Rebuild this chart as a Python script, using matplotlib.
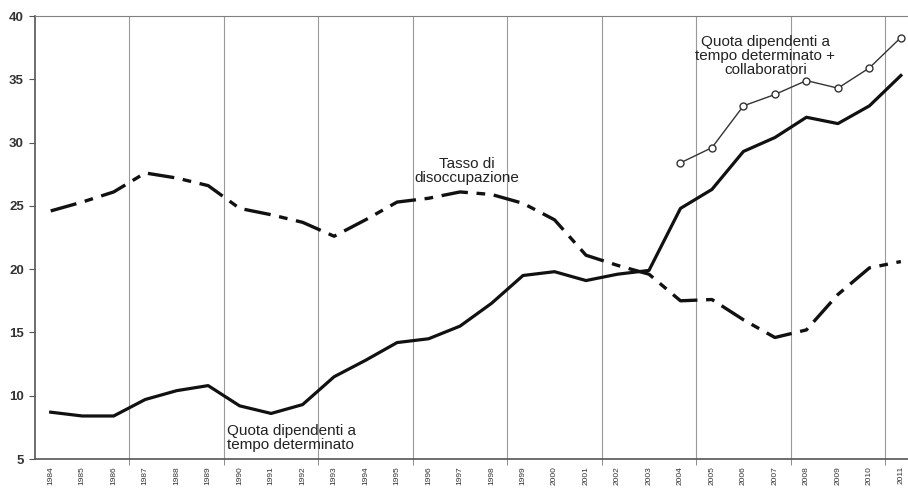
import numpy as np
import matplotlib
matplotlib.use("Agg")
import matplotlib.pyplot as plt

# data
years = list(range(1984, 2012))
tempo_det = [8.7, 8.4, 8.4, 9.7, 10.4, 10.8, 9.2, 8.6, 9.3, 11.5, 12.8, 14.2, 14.5, 15.5,
             17.3, 19.5, 19.8, 19.1, 19.6, 19.9, 24.8, 26.3, 29.3, 30.4, 32.0, 31.5, 32.9, 35.3]
disocc = [24.6, 25.3, 26.1, 27.6, 27.2, 26.6, 24.8, 24.3, 23.7, 22.6, 23.9, 25.3, 25.6, 26.1,
          25.9, 25.2, 23.9, 21.1, 20.3, 19.6, 17.5, 17.6, 16.0, 14.6, 15.2, 18.0, 20.1, 20.6]
years_collab = list(range(2004, 2012))
tempo_collab = [28.4, 29.6, 32.9, 33.8, 34.9, 34.3, 35.9, 38.3]

plt.rcParams['font.family'] = ['Liberation Sans', 'DejaVu Sans']

fig = plt.figure(figsize=(9.08, 4.88), dpi=100)
ax = fig.add_axes([0.0385, 0.0594, 0.971, 0.9078])

# lines
ax.plot(years, tempo_det, color='#111111', lw=2.3, solid_joinstyle='round')
ax.plot(years, disocc, color='#111111', lw=2.4, linestyle=(0, (8, 2.6, 2.6, 2.6)))
ax.plot(years_collab, tempo_collab, color='#333333', lw=1.0, marker='o',
        markersize=5, markerfacecolor='white', markeredgecolor='#333333', markeredgewidth=1.0)

# axes
ax.set_xlim(1983.5, 2011.5)
ax.set_ylim(5, 40)
ax.set_yticks(range(5, 41, 5))
ax.set_xticks(years)
ax.set_xticklabels([str(y) for y in years], rotation=90, fontsize=6, color='#333333')
ax.set_xticks(np.arange(1986.5, 2011, 3), minor=True)
ax.tick_params(axis='x', which='major', length=0, pad=5)
ax.tick_params(axis='x', which='minor', length=4, color='#777777')
ax.tick_params(axis='y', length=4, color='#555555', labelsize=9.5, labelcolor='#333333', pad=4)
for lab in ax.get_yticklabels():
    lab.set_fontweight('bold')
ax.grid(axis='x', which='minor', color='#9a9a9a', lw=0.8)

for s in ['left', 'bottom']:
    ax.spines[s].set_color('#555555')
    ax.spines[s].set_linewidth(1.2)
ax.spines['top'].set_color('#808080')
ax.spines['right'].set_visible(False)

# annotations
ax.text(2006.7, 38.5, 'Quota dipendenti a\ntempo determinato +\ncollaboratori', ha='center', va='top',
        fontsize=11, color='#222222', linespacing=1.0)
ax.text(1997.2, 28.85, 'Tasso di\ndisoccupazione', ha='center', va='top',
        fontsize=11, color='#222222', linespacing=0.95)
ax.text(1989.6, 7.75, 'Quota dipendenti a\ntempo determinato', ha='left', va='top',
        fontsize=11, color='#222222', linespacing=0.95)

plt.savefig('out.png', dpi=100)
